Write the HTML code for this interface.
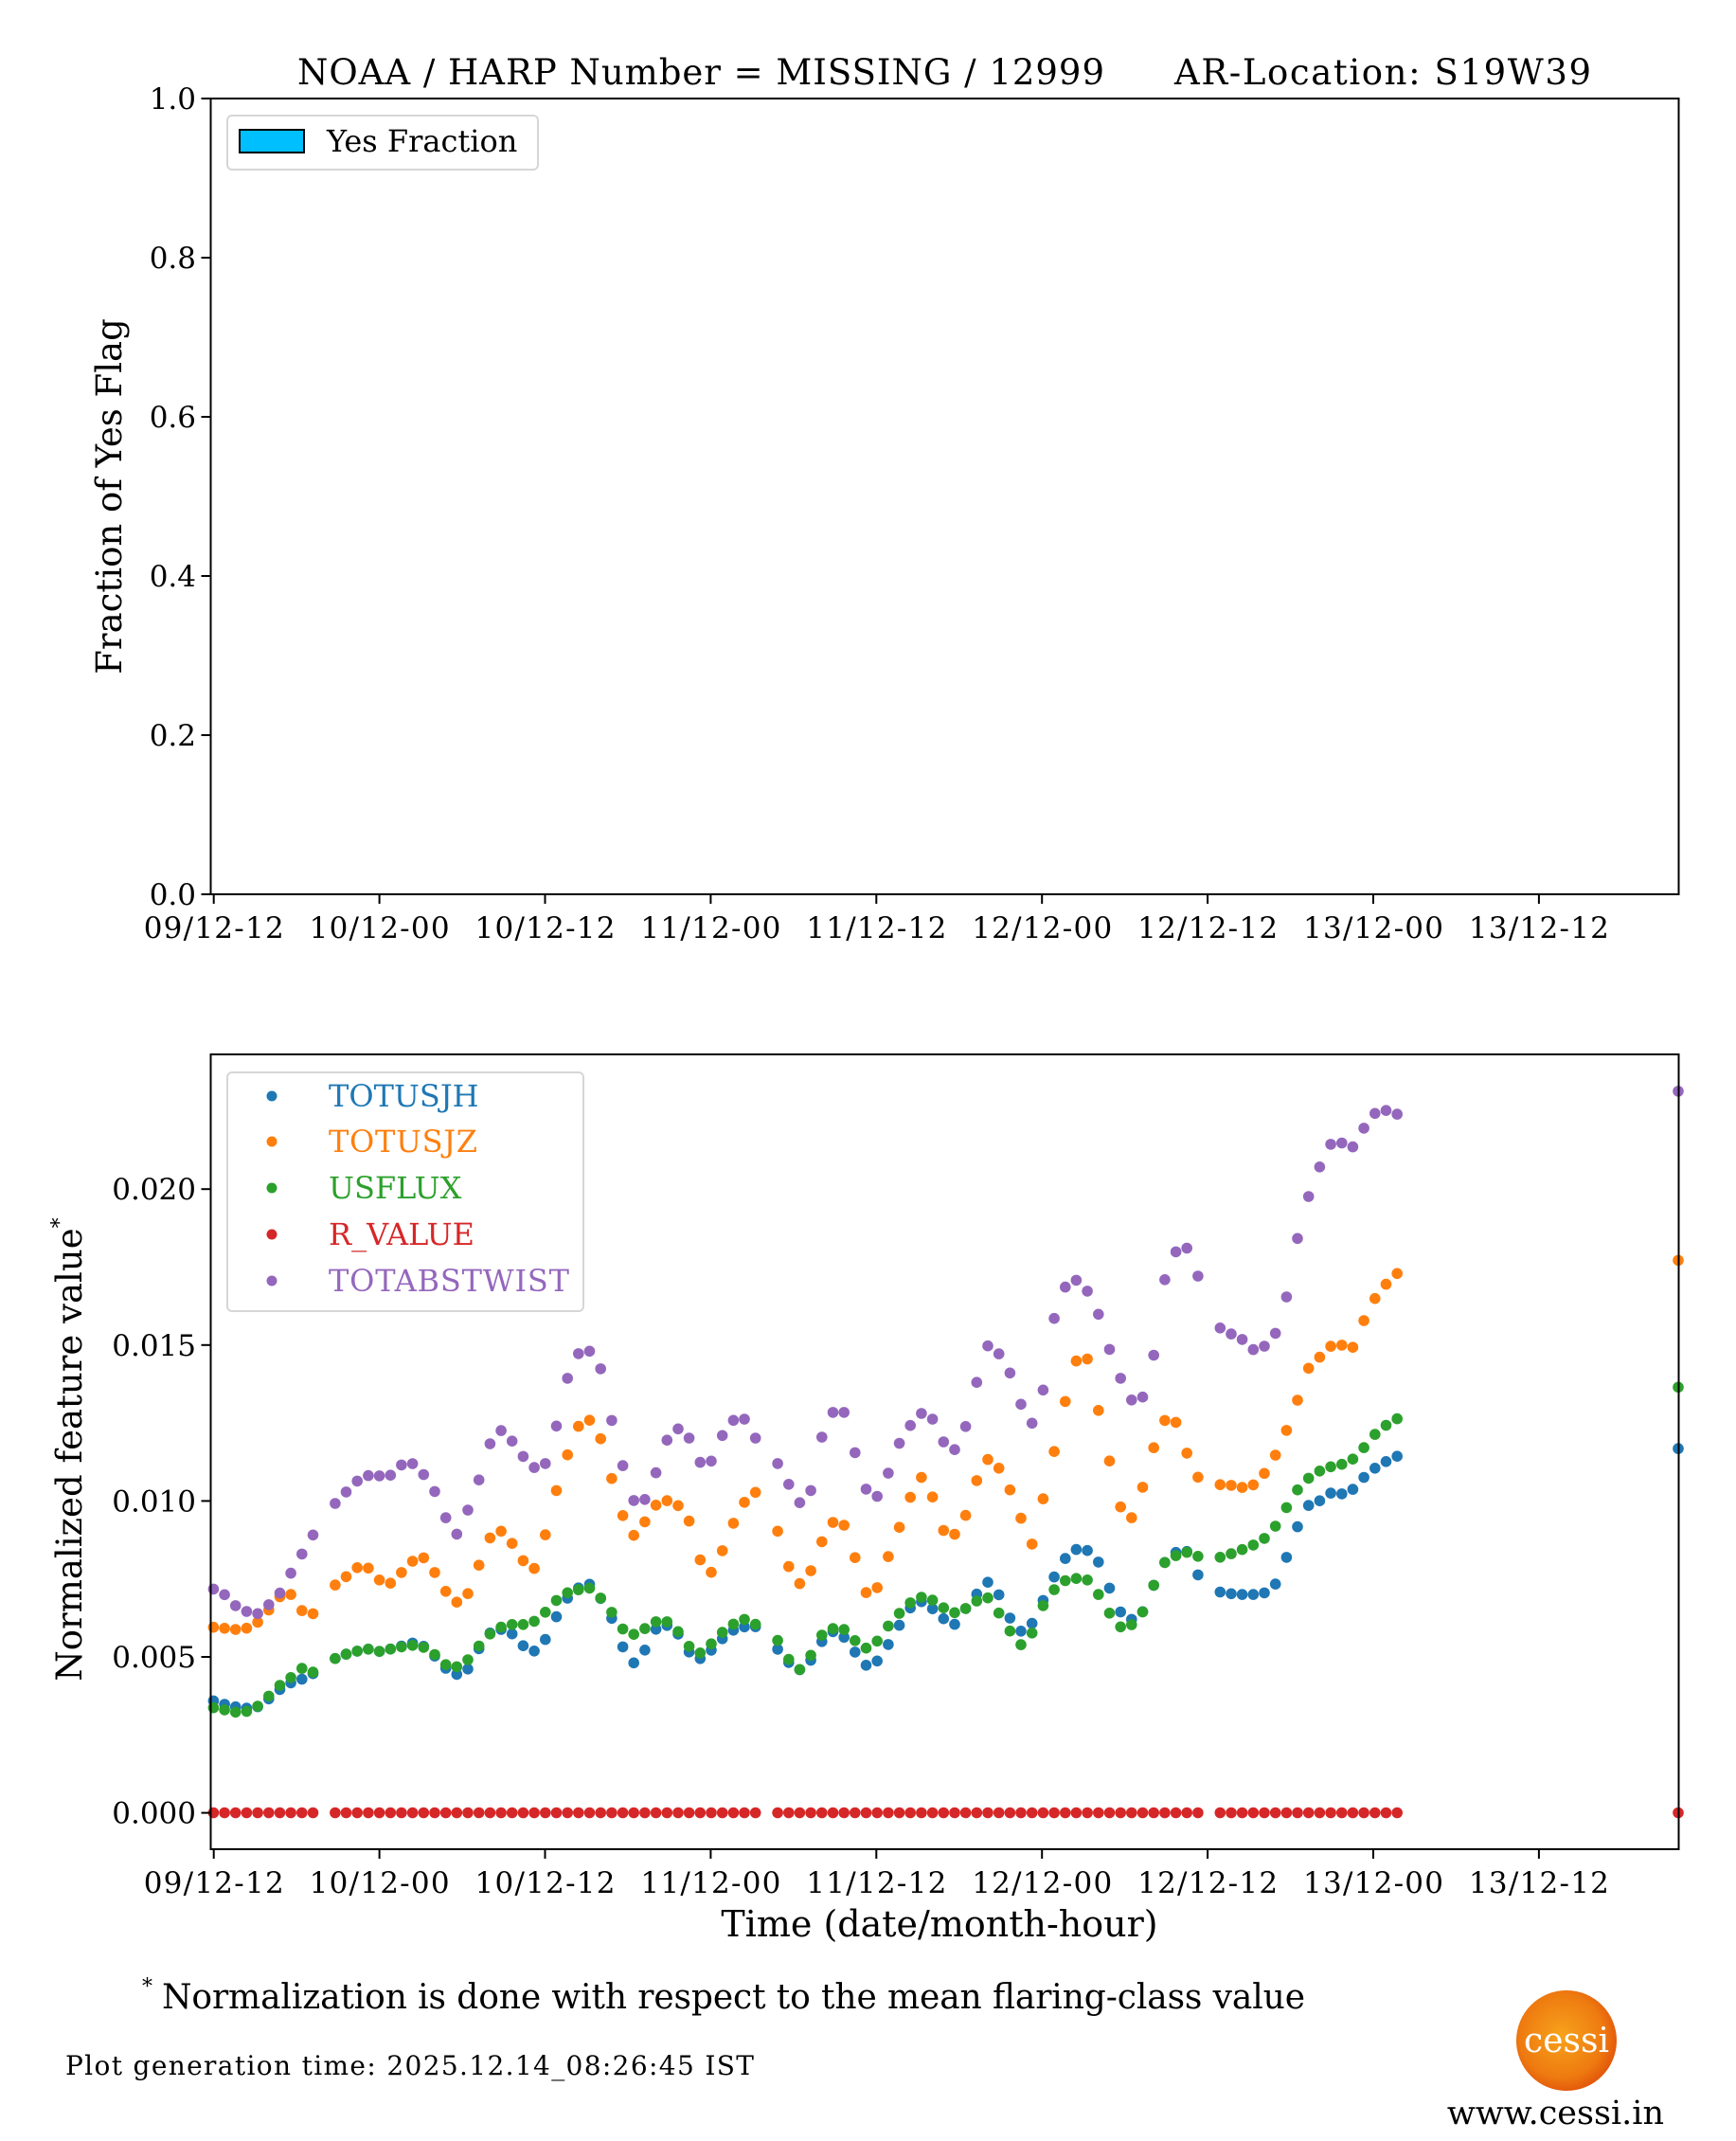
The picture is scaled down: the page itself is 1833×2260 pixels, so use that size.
<!DOCTYPE html>
<html><head><meta charset="utf-8"><style>
html,body{margin:0;padding:0;background:#fff;}
svg{display:block;font-family:"DejaVu Serif","Liberation Serif",serif;}
</style></head><body>
<svg id="s" width="1833" height="2260" viewBox="0 0 1833 2260" xmlns="http://www.w3.org/2000/svg">
<rect width="1833" height="2260" fill="#fff"/>
<text x="314" y="89" font-size="37" textLength="852">NOAA / HARP Number = MISSING / 12999</text>
<text x="1240" y="89" font-size="37" textLength="440">AR-Location: S19W39</text>
<!-- top axes -->
<rect x="222.5" y="104" width="1550" height="840" fill="none" stroke="#000" stroke-width="2"/>
<g id="topy" font-size="31" text-anchor="end"></g>
<g id="topx" font-size="31" text-anchor="middle"></g>
<text transform="translate(128,524) rotate(-90)" font-size="37" text-anchor="middle">Fraction of Yes Flag</text>
<rect x="240" y="122" width="328" height="57" rx="5" fill="#fff" stroke="#d6d6d6" stroke-width="2"/>
<rect x="253" y="137" width="68" height="24" fill="#00bfff" stroke="#000" stroke-width="2"/>
<text x="345" y="160" font-size="32">Yes Fraction</text>
<!-- bottom axes -->
<g id="dots"></g>
<rect x="222.5" y="1113" width="1550" height="839" fill="none" stroke="#000" stroke-width="2"/>
<g id="boty" font-size="31" text-anchor="end"></g>
<g id="botx" font-size="31" text-anchor="middle"></g>
<text x="992" y="2044" font-size="38" text-anchor="middle">Time (date/month-hour)</text>
<text transform="translate(86,1530) rotate(-90)" font-size="37" text-anchor="middle">Normalized feature value<tspan font-size="22" dy="-16">*</tspan></text>
<rect x="240" y="1132" width="376" height="252" rx="5" fill="#fff" stroke="#d6d6d6" stroke-width="2"/>
<g font-size="32">
<circle cx="287" cy="1157" r="5.5" fill="#1f77b4"/><text x="347" y="1168" fill="#1f77b4">TOTUSJH</text>
<circle cx="287" cy="1205" r="5.5" fill="#ff7f0e"/><text x="347" y="1216" fill="#ff7f0e" textLength="157">TOTUSJZ</text>
<circle cx="287" cy="1254" r="5.5" fill="#2ca02c"/><text x="347" y="1265" fill="#2ca02c">USFLUX</text>
<circle cx="287" cy="1303" r="5.5" fill="#d62728"/><text x="347" y="1314" fill="#d62728">R_VALUE</text>
<circle cx="287" cy="1352" r="5.5" fill="#9467bd"/><text x="347" y="1363" fill="#9467bd" textLength="254">TOTABSTWIST</text>
</g>
<text x="150" y="2104" font-size="22">*</text>
<text x="171" y="2120" font-size="36" textLength="1207">Normalization is done with respect to the mean flaring-class value</text>
<text x="69" y="2190" font-size="28" textLength="727">Plot generation time: 2025.12.14_08:26:45 IST</text>
<defs><radialGradient id="sun" cx="0.45" cy="0.45" r="0.6"><stop offset="0" stop-color="#f7a21b"/><stop offset="0.7" stop-color="#ee7a10"/><stop offset="1" stop-color="#e0500a"/></radialGradient></defs>
<circle cx="1654" cy="2154" r="53" fill="url(#sun)"/>
<text x="1654" y="2166" font-size="36" fill="#fff" text-anchor="middle">cessi</text>
<text x="1757" y="2242" font-size="35" text-anchor="end">www.cessi.in</text>
</svg>
<script>
var NS="http://www.w3.org/2000/svg";
function el(p,t,a,txt){var e=document.createElementNS(NS,t);for(var k in a)e.setAttribute(k,a[k]);if(txt!==undefined)e.textContent=txt;p.appendChild(e);return e;}
var labs=["09/12-12","10/12-00","10/12-12","11/12-00","11/12-12","12/12-00","12/12-12","13/12-00","13/12-12"];
function xt(k){return 225.7+k*174.9;}
var tx=document.getElementById("topx"),bx=document.getElementById("botx");
for(var k=0;k<9;k++){var x=xt(k);
 el(tx,"line",{x1:x,y1:944,x2:x,y2:954,stroke:"#000","stroke-width":2});
 el(tx,"text",{x:x,y:990,textLength:148},labs[k]);
 el(bx,"line",{x1:x,y1:1952,x2:x,y2:1962,stroke:"#000","stroke-width":2});
 el(bx,"text",{x:x,y:1998,textLength:148},labs[k]);}
var ty=document.getElementById("topy");
for(var i=0;i<=5;i++){var y=944-i*168;
 el(ty,"line",{x1:212.5,y1:y,x2:222.5,y2:y,stroke:"#000","stroke-width":2});
 el(ty,"text",{x:207,y:y+11},(i*0.2).toFixed(1));}
var by=document.getElementById("boty");
for(var i=0;i<=4;i++){var y=1913.6-i*164.6;
 el(by,"line",{x1:212.5,y1:y,x2:222.5,y2:y,stroke:"#000","stroke-width":2});
 el(by,"text",{x:207,y:y+11},(i*0.005).toFixed(3));}
function X(xd){return 222.5+(xd-155)*1.442;}
function Y(yd){return 1113+(yd-772)*1.4397;}
function interp(k,x){if(x<=k[0][0])return k[0][1];for(var i=1;i<k.length;i++){if(x<=k[i][0]){var a=k[i-1],b=k[i];return a[1]+(b[1]-a[1])*(x-a[0])/(b[0]-a[0]);}}return k[k.length-1][1];}
var P=[[157,1164],[165,1168],[175,1178],[188,1183],[195,1178],[205,1168],[215,1150],[222,1138],[233,1119],[247,1100],[262,1085],[272,1080],[285,1082],[298,1070],[305,1073],[315,1085],[323,1100],[330,1120],[337,1125],[347,1095],[357,1070],[362,1045],[372,1050],[382,1065],[392,1075],[400,1072],[407,1050],[414,1015],[420,1000],[426,988],[434,990],[440,1000],[446,1030],[455,1066],[462,1097],[470,1103],[478,1090],[486,1060],[495,1045],[502,1050],[510,1058],[517,1085],[524,1062],[533,1045],[540,1038],[548,1040],[552,1050],[556,1057],[568,1068],[577,1085],[584,1098],[590,1105],[596,1087],[603,1050],[610,1035],[616,1030],[622,1040],[630,1080],[640,1102],[650,1082],[660,1055],[670,1040],[678,1033],[684,1040],[690,1055],[700,1062],[710,1040],[716,1012],[722,985],[730,988],[740,1005],[745,1020],[752,1038],[760,1046],[765,1015],[770,975],[778,946],[786,936],[793,940],[800,950],[806,965],[812,985],[817,1000],[825,1018],[832,1030],[840,1020],[847,985],[852,942],[860,918],[868,912],[875,920],[880,945],[885,965],[897,975],[905,978],[912,982],[920,990],[928,985],[935,976],[945,942],[950,910],[960,872],[968,852],[975,838],[980,835],[985,838],[992,840],[1000,825],[1010,812],[1020,814],[1028,818]];
var O=[[157,1192],[167,1193],[177,1194],[187,1191],[197,1180],[207,1168],[215,1168],[220,1178],[227,1185],[232,1180],[240,1168],[247,1160],[257,1153],[265,1146],[273,1150],[282,1162],[290,1158],[300,1145],[310,1140],[318,1150],[325,1163],[332,1172],[340,1176],[348,1155],[356,1135],[363,1118],[372,1125],[380,1137],[388,1150],[395,1148],[403,1110],[410,1085],[418,1060],[425,1043],[433,1040],[440,1052],[447,1077],[455,1107],[462,1120],[468,1130],[476,1105],[486,1100],[494,1098],[502,1110],[510,1120],[516,1160],[524,1148],[530,1135],[538,1115],[546,1100],[552,1095],[557,1090],[568,1115],[575,1137],[582,1160],[590,1160],[597,1145],[604,1125],[612,1113],[620,1118],[628,1145],[636,1170],[643,1163],[650,1143],[657,1125],[664,1105],[672,1085],[678,1080],[684,1098],[690,1120],[698,1125],[705,1120],[712,1095],[722,1068],[730,1072],[738,1085],[745,1105],[752,1120],[758,1135],[764,1100],[771,1070],[778,1040],[786,1000],[793,992],[800,998],[806,1040],[812,1065],[818,1093],[826,1120],[834,1100],[842,1075],[848,1050],[855,1038],[861,1040],[867,1055],[873,1075],[880,1085],[897,1088],[905,1088],[912,1090],[920,1087],[930,1075],[940,1055],[950,1028],[958,1003],[966,995],[975,986],[983,985],[990,990],[998,970],[1008,950],[1020,935],[1028,930]];
var G=[[157,1251],[167,1253],[177,1255],[187,1252],[195,1245],[205,1235],[215,1228],[222,1222],[230,1225],[240,1218],[250,1213],[260,1210],[270,1208],[280,1210],[290,1207],[305,1205],[315,1208],[322,1215],[330,1222],[340,1220],[348,1210],[356,1200],[364,1193],[374,1190],[384,1190],[394,1187],[403,1178],[412,1168],[422,1165],[432,1163],[440,1170],[448,1180],[455,1192],[463,1198],[470,1195],[480,1188],[490,1188],[500,1198],[510,1213],[518,1208],[528,1197],[540,1188],[550,1185],[558,1195],[568,1198],[576,1212],[584,1225],[592,1218],[600,1200],[608,1193],[618,1193],[625,1200],[633,1208],[641,1205],[648,1195],[656,1185],[664,1177],[672,1170],[680,1170],[688,1175],[697,1182],[705,1180],[713,1175],[722,1168],[730,1178],[737,1190],[745,1202],[752,1208],[758,1192],[765,1175],[772,1165],[780,1158],[790,1156],[800,1158],[806,1170],[812,1180],[820,1192],[830,1190],[838,1180],[846,1160],[853,1145],[860,1140],[870,1137],[878,1140],[880,1144],[897,1140],[908,1136],[918,1132],[928,1126],[937,1115],[945,1100],[953,1088],[962,1080],[972,1075],[982,1073],[990,1070],[998,1062],[1008,1050],[1018,1042],[1028,1037]];
var B=[[157,1246],[170,1250],[187,1252],[197,1245],[205,1238],[215,1232],[222,1230],[230,1226],[240,1218],[250,1213],[260,1210],[270,1208],[280,1210],[290,1207],[305,1203],[315,1208],[322,1217],[330,1225],[340,1228],[348,1215],[356,1198],[366,1193],[376,1197],[386,1208],[394,1210],[402,1198],[410,1180],[420,1165],[432,1160],[440,1170],[450,1188],[458,1210],[468,1222],[478,1195],[488,1190],[496,1195],[505,1210],[515,1216],[525,1205],[535,1195],[545,1192],[552,1190],[558,1195],[570,1208],[580,1220],[590,1225],[600,1205],[610,1195],[620,1200],[630,1215],[637,1222],[645,1215],[655,1198],[664,1182],[672,1172],[680,1175],[690,1185],[700,1190],[708,1178],[718,1165],[725,1158],[732,1168],[740,1185],[748,1195],[755,1192],[762,1178],[770,1160],[778,1145],[786,1135],[796,1135],[804,1142],[812,1160],[818,1178],[826,1185],[834,1188],[840,1175],[848,1155],[856,1140],[866,1135],[874,1138],[880,1162],[897,1167],[910,1168],[925,1168],[935,1160],[943,1140],[950,1120],[958,1103],[966,1100],[976,1093],[988,1095],[996,1085],[1008,1075],[1020,1068],[1028,1065]];
var R=[[157,1328],[1030,1328]];
var D=document.getElementById("dots");
var series=[[B,"#1f77b4",1061],[O,"#ff7f0e",923],[G,"#2ca02c",1016],[R,"#d62728",1328],[P,"#9467bd",799]];
series.forEach(function(s){
 for(var xd=157;xd<=1030;xd+=8.1){
  if((xd>236&&xd<244)||(xd>558&&xd<566)||(xd>883&&xd<894))continue;
  el(D,"circle",{cx:X(xd).toFixed(1),cy:Y(interp(s[0],xd)).toFixed(1),r:5.8,fill:s[1]});}
 el(D,"circle",{cx:1772,cy:Y(s[2]).toFixed(1),r:5.8,fill:s[1]});
});
</script>
</body></html>
